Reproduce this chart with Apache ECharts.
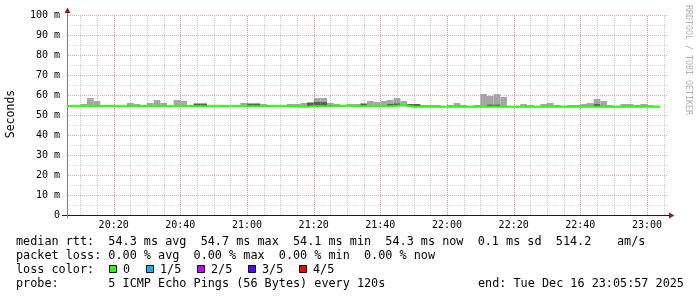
<!DOCTYPE html>
<html><head><meta charset="utf-8">
<script src="https://cdn.jsdelivr.net/npm/echarts@6/dist/echarts.min.js"></script>
<style>html,body{margin:0;padding:0;background:#fff}#c{width:697px;height:297px}</style>
</head><body><div id="c"></div>
<script>
// x values are minutes after 20:00; 2-minute RRD steps starting at 20:06
const firstBinMinute = 6;
const binMinutes = 2;
// median rtt (ms) per 2-min step, null = no data
const medianMs = [
 54.4,54.4,54.4,54.4,54.4,54.4,54.4,54.4,54.4,54.4,
 54.4,54.4,54.4,54.4,54.4,54.4,54.4,54.4,54.4,54.4,
 54.4,54.4,54.4,54.4,54.4,54.4,54.4,54.4,54.4,54.4,
 54.4,54.4,54.4,54.4,54.1,54.1,54.4,54.4,54.4,54.4,
 54.4,54.7,54.4,54.4,54.4,54.4,54.4,54.4,54.4,54.7,
 54.7,54.1,54.1,54.1,54.1,54.1,54.1,54.1,54.1,54.1,
 54.1,54.1,54.1,54.1,54.1,54.1,54.1,54.1,54.1,54.1,
 54.1,54.1,54.1,54.1,54.1,54.1,54.1,54.1,54.1,54.1,
 54.1,54.1,54.1,54.1,54.1,54.1,54.1,54.1,54.1,null
];
// second highest ping (dark smoke top), null = not visible
const upperPingMs = [
 null,null,null,null,null,null,null,null,null,null,
 null,null,null,null,null,null,null,null,null,55.5,
 55.5,null,null,null,null,null,null,55.5,55.5,null,
 null,null,null,null,null,null,56.0,56.5,56.5,55.0,
 null,null,null,null,55.5,null,null,null,55.5,55.8,
 null,55.5,55.5,null,null,null,null,null,null,null,
 null,null,null,55.2,55.2,null,null,null,null,null,
 null,null,null,null,null,null,null,null,null,55.5,
 null,null,null,null,null,null,null,null,null,null
];
// highest ping (light smoke top), null = no smoke visible
const maxPingMs = [
 55.0,null,55.5,58.5,57.0,55.0,55.0,null,null,56.0,
 55.5,55.0,56.0,57.5,56.0,null,57.5,57.0,55.0,56.0,
 56.0,null,null,55.0,null,55.0,56.0,56.0,56.0,55.5,
 55.0,null,null,55.5,55.5,56.0,56.5,58.5,58.5,56.0,
 55.5,55.0,55.5,55.5,56.0,57.0,56.5,57.0,57.5,58.5,
 57.0,55.5,55.5,55.0,55.0,55.0,null,55.0,56.0,55.0,
 null,55.0,60.5,59.5,60.5,59.0,null,null,55.5,55.0,
 null,55.5,56.0,55.0,null,55.0,55.0,55.5,56.0,58.0,
 57.0,55.0,null,55.5,55.5,55.0,55.5,55.0,null,null
];
const xMajorMinutes = [20,40,60,80,100,120,140,160,180];
const xTickLabels = ['20:20','20:40','21:00','21:20','21:40','22:00','22:20','22:40','23:00'];
const xMinorMinutes = [10,15,25,30,35,45,50,55,65,70,75,85,90,95,105,110,115,125,130,135,145,150,155,165,170,175,185];
const yMajorMs = [10,20,30,40,50,60,70,80,90,100];
const yMinorMs = [5,15,25,35,45,55,65,75,85,95];
const legendLines = [
 'median rtt:  54.3 ms avg  54.7 ms max  54.1 ms min  54.3 ms now  0.1 ms sd  514.2',
 'packet loss: 0.00 % avg  0.00 % max  0.00 % min  0.00 % now',
 'loss color:',
 'probe:       5 ICMP Echo Pings (56 Bytes) every 120s'
];
const lossLabels = ['0','1/5','2/5','3/5','4/5'];
const lossColors = ['#26ff00','#00b8ff','#cc00ff','#5500ff','#ff0000'];

const MONO = '"DejaVu Sans Mono", monospace';
const majorColorV = '#e48e8e';
const majorColorH = '#efa8a8';
const minorColorV = '#cacaca';
const minorColorH = '#dadada';
const X_MIN = 6, X_MAX = 186;

// dotted-line patterns (one coloured pixel, one transparent)
function dotPattern(color, horizontal) {
  const c = document.createElement('canvas');
  c.width = horizontal ? 2 : 1; c.height = horizontal ? 1 : 2;
  const g = c.getContext('2d'); g.fillStyle = color; g.fillRect(0, 0, 1, 1);
  return {image: c, repeat: 'repeat'};
}
const patterns = {
  hMaj: dotPattern(majorColorH, true), hMin: dotPattern(minorColorH, true),
  vMaj: dotPattern(majorColorV, false), vMin: dotPattern(minorColorV, false)
};

const smokeData = medianMs.map((m, i) => {
  const s = firstBinMinute + i * binMinutes;
  if (m == null) return [s, s + binMinutes, 0, 0, 0];
  const up = upperPingMs[i] == null ? m : upperPingMs[i];
  const mx = maxPingMs[i] == null ? m : maxPingMs[i];
  return [s, s + binMinutes, m, up, mx];
});
const lineData = [];
medianMs.forEach((m, i) => { if (m != null) lineData.push([firstBinMinute + i * binMinutes, m]); });
const lastIdx = medianMs.length - 2;
lineData.push([firstBinMinute + (lastIdx + 1) * binMinutes, medianMs[lastIdx]]);

const vGridData = xMinorMinutes.map(v => [v, 0, 0]).concat(xMajorMinutes.map(v => [v, 0, 1]));
const hGridData = yMinorMs.map(v => [X_MIN, v, 0]).concat(yMajorMs.map(v => [X_MIN, v, 1]));

const graphics = [];
const lineY = [241.5, 255.5, 269.5, 283.5];
const txt = (x, y, t) => ({type:'text', x, y, style:{text:t, font:'11.8px ' + MONO, fill:'#000', verticalAlign:'middle', textVerticalAlign:'middle'}});
legendLines.forEach((t, i) => graphics.push(txt(16, lineY[i], t)));
graphics.push(txt(617, lineY[0], 'am/s'));
graphics.push(txt(478, lineY[3], 'end: Tue Dec 16 23:05:57 2025'));
const swX = [109, 146, 197, 248, 299];
const lbX = [123, 160, 211, 262, 313];
lossLabels.forEach((l, i) => {
  graphics.push({type:'rect', shape:{x:swX[i]+0.5, y:265.5, width:7, height:7}, style:{fill:lossColors[i], stroke:'#000', lineWidth:1}});
  graphics.push(txt(lbX[i], lineY[2], l));
});
graphics.push({type:'text', x:11, y:114, rotation:Math.PI/2, style:{text:'Seconds', font:'11.5px ' + MONO, fill:'#000', align:'center', textAlign:'center', verticalAlign:'middle', textVerticalAlign:'middle'}});
graphics.push({type:'text', x:688, y:5, rotation:-Math.PI/2, style:{text:'RRDTOOL / TOBI OETIKER', font:'8.3px ' + MONO, fill:'#b0b0b0', align:'left', textAlign:'left', verticalAlign:'middle', textVerticalAlign:'middle'}});
graphics.push({type:'line', shape:{x1:67.5, y1:15, x2:67.5, y2:11}, style:{stroke:'#808080', lineWidth:1}, z:10});
graphics.push({type:'line', shape:{x1:67.5, y1:215, x2:67.5, y2:218}, style:{stroke:'#808080', lineWidth:1}, z:10});
graphics.push({type:'line', shape:{x1:62, y1:215.5, x2:67, y2:215.5}, style:{stroke:'#1f1f1f', lineWidth:1}, z:10});
graphics.push({type:'line', shape:{x1:667, y1:215.5, x2:670, y2:215.5}, style:{stroke:'#1f1f1f', lineWidth:1}, z:10});
graphics.push({type:'polygon', shape:{points:[[64.5,13],[70.5,13],[67.5,7.5]]}, style:{fill:'#8b1f1f'}, z:10});
graphics.push({type:'polygon', shape:{points:[[669,212.5],[669,218.5],[674.5,215.5]]}, style:{fill:'#8b1f1f'}, z:10});

const chart = echarts.init(document.getElementById('c'), null, {renderer:'canvas'});
chart.setOption({
  animation: false,
  backgroundColor: '#fff',
  grid: {left: 67, right: 30, top: 15, bottom: 82, containLabel: false},
  xAxis: {
    type: 'value', min: X_MIN, max: X_MAX,
    axisLine: {show: true, lineStyle: {color: '#1f1f1f', width: 1}},
    axisTick: {show: false},
    splitLine: {show: false},
    axisLabel: {
      customValues: xMajorMinutes,
      formatter: v => { const k = xMajorMinutes.indexOf(v); return k >= 0 ? xTickLabels[k] : ''; },
      fontFamily: 'DejaVu Sans Mono', fontSize: 10, color: '#000', margin: 5
    }
  },
  yAxis: {
    type: 'value', min: 0, max: 100, interval: 10,
    axisLine: {show: true, lineStyle: {color: '#808080', width: 1}},
    axisTick: {show: false},
    axisLabel: {formatter: v => v === 0 ? '0' : v + ' m', fontFamily: 'DejaVu Sans Mono', fontSize: 10, color: '#000', margin: 7},
    splitLine: {show: false}
  },
  series: [
    {
      type: 'custom', z: 1, silent: true, data: hGridData, clip: false,
      renderItem: (params, api) => {
        const cs = params.coordSys;
        const major = api.value(2) === 1;
        const y = Math.round(api.coord([api.value(0), api.value(1)])[1]);
        return {type:'rect', shape:{x: cs.x, y: y, width: cs.width, height: 1}, style:{fill: major ? patterns.hMaj : patterns.hMin}};
      }
    },
    {
      type: 'custom', z: 1, silent: true, data: vGridData, clip: false,
      renderItem: (params, api) => {
        const cs = params.coordSys;
        const major = api.value(2) === 1;
        const x = Math.round(api.coord([api.value(0), api.value(1)])[0]);
        return {type:'rect', shape:{x: x, y: cs.y, width: 1, height: cs.height}, style:{fill: major ? patterns.vMaj : patterns.vMin}};
      }
    },
    {
      type: 'custom', z: 2, silent: true, data: smokeData,
      renderItem: (params, api) => {
        const x0 = api.value(0), x1 = api.value(1), med = api.value(2), up = api.value(3), mx = api.value(4);
        const children = [];
        if (mx > med) {
          const a = api.coord([x0, mx]), b = api.coord([x1, med]);
          children.push({type:'rect', shape:{x:a[0], y:a[1], width:b[0]-a[0], height:b[1]-a[1]}, style:{fill:'#a6a6a6'}});
        }
        if (up > med) {
          const a = api.coord([x0, up]), b = api.coord([x1, med]);
          children.push({type:'rect', shape:{x:a[0], y:a[1], width:b[0]-a[0], height:b[1]-a[1]}, style:{fill:'#5e5e5e'}});
        }
        return {type:'group', children};
      }
    },
    {
      type: 'line', z: 3, silent: true, data: lineData, step: 'end', symbol: 'none',
      lineStyle: {color: '#26ff00', width: 2}
    }
  ],
  graphic: graphics
});
</script>
</body></html>
